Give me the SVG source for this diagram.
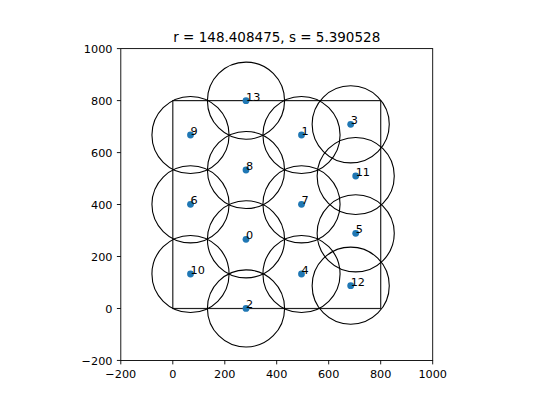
<svg xmlns="http://www.w3.org/2000/svg" width="540" height="405" viewBox="0 0 540 405">
<style>
.c{fill:none;stroke:#000;stroke-width:1.1}
.d{fill:#1f77b4}
.t{font-family:"DejaVu Sans",sans-serif;font-size:11.25px;fill:#000}
.tk{stroke:#000;stroke-width:0.9}
</style>
<rect width="540" height="405" fill="#fff"/>
<text x="276.75" y="42" text-anchor="middle" font-family="DejaVu Sans, sans-serif" font-size="13.5px">r = 148.408475, s = 5.390528</text>
<g id="axes">
<rect x="120.8" y="48.6" width="311.9" height="311.85" fill="none" stroke="#000" stroke-width="0.9"/>
<g class="tk">
<line x1="120.8" y1="360.45" x2="120.8" y2="364.4"/>
<line x1="172.8" y1="360.45" x2="172.8" y2="364.4"/>
<line x1="224.8" y1="360.45" x2="224.8" y2="364.4"/>
<line x1="276.7" y1="360.45" x2="276.7" y2="364.4"/>
<line x1="328.7" y1="360.45" x2="328.7" y2="364.4"/>
<line x1="380.7" y1="360.45" x2="380.7" y2="364.4"/>
<line x1="432.7" y1="360.45" x2="432.7" y2="364.4"/>
<line x1="116.9" y1="360.45" x2="120.8" y2="360.45"/>
<line x1="116.9" y1="308.5" x2="120.8" y2="308.5"/>
<line x1="116.9" y1="256.5" x2="120.8" y2="256.5"/>
<line x1="116.9" y1="204.5" x2="120.8" y2="204.5"/>
<line x1="116.9" y1="152.6" x2="120.8" y2="152.6"/>
<line x1="116.9" y1="100.6" x2="120.8" y2="100.6"/>
<line x1="116.9" y1="48.6" x2="120.8" y2="48.6"/>
</g>
<g class="t" text-anchor="middle">
<text x="120.8" y="378">−200</text>
<text x="172.8" y="378">0</text>
<text x="224.8" y="378">200</text>
<text x="276.7" y="378">400</text>
<text x="328.7" y="378">600</text>
<text x="380.7" y="378">800</text>
<text x="432.7" y="378">1000</text>
</g>
<g class="t" text-anchor="end">
<text x="112.5" y="364.6">−200</text>
<text x="112.5" y="312.7">0</text>
<text x="112.5" y="260.7">200</text>
<text x="112.5" y="208.7">400</text>
<text x="112.5" y="156.8">600</text>
<text x="112.5" y="104.8">800</text>
<text x="112.5" y="52.8">1000</text>
</g>
</g>
<rect id="square" x="172.8" y="100.6" width="207.9" height="207.9" fill="none" stroke="#222" stroke-width="1.2"/>
<g id="circles">
<circle class="c" cx="246" cy="239.3" r="38.57"/>
<circle class="c" cx="301.5" cy="135" r="38.57"/>
<circle class="c" cx="246" cy="308.4" r="38.57"/>
<circle class="c" cx="350.7" cy="124.3" r="38.57"/>
<circle class="c" cx="301.5" cy="274" r="38.57"/>
<circle class="c" cx="355.7" cy="233.3" r="38.57"/>
<circle class="c" cx="190.5" cy="204.3" r="38.57"/>
<circle class="c" cx="301.5" cy="204.3" r="38.57"/>
<circle class="c" cx="246" cy="170" r="38.57"/>
<circle class="c" cx="190.5" cy="135" r="38.57"/>
<circle class="c" cx="190.5" cy="274" r="38.57"/>
<circle class="c" cx="355.7" cy="176" r="38.57"/>
<circle class="c" cx="350.7" cy="285.7" r="38.57"/>
<circle class="c" cx="246" cy="100.7" r="38.57"/>
</g>
<g id="points">
<g id="p0"><circle class="d" cx="246" cy="239.3" r="3.4"/><text class="t" x="246" y="239.3">0</text></g>
<g id="p1"><circle class="d" cx="301.5" cy="135" r="3.4"/><text class="t" x="301.5" y="135">1</text></g>
<g id="p2"><circle class="d" cx="246" cy="308.4" r="3.4"/><text class="t" x="246" y="308.4">2</text></g>
<g id="p3"><circle class="d" cx="350.7" cy="124.3" r="3.4"/><text class="t" x="350.7" y="124.3">3</text></g>
<g id="p4"><circle class="d" cx="301.5" cy="274" r="3.4"/><text class="t" x="301.5" y="274">4</text></g>
<g id="p5"><circle class="d" cx="355.7" cy="233.3" r="3.4"/><text class="t" x="355.7" y="233.3">5</text></g>
<g id="p6"><circle class="d" cx="190.5" cy="204.3" r="3.4"/><text class="t" x="190.5" y="204.3">6</text></g>
<g id="p7"><circle class="d" cx="301.5" cy="204.3" r="3.4"/><text class="t" x="301.5" y="204.3">7</text></g>
<g id="p8"><circle class="d" cx="246" cy="170" r="3.4"/><text class="t" x="246" y="170">8</text></g>
<g id="p9"><circle class="d" cx="190.5" cy="135" r="3.4"/><text class="t" x="190.5" y="135">9</text></g>
<g id="p10"><circle class="d" cx="190.5" cy="274" r="3.4"/><text class="t" x="190.5" y="274">10</text></g>
<g id="p11"><circle class="d" cx="355.7" cy="176" r="3.4"/><text class="t" x="355.7" y="176">11</text></g>
<g id="p12"><circle class="d" cx="350.7" cy="285.7" r="3.4"/><text class="t" x="350.7" y="285.7">12</text></g>
<g id="p13"><circle class="d" cx="246" cy="100.7" r="3.4"/><text class="t" x="246" y="100.7">13</text></g>
</g>
</svg>
